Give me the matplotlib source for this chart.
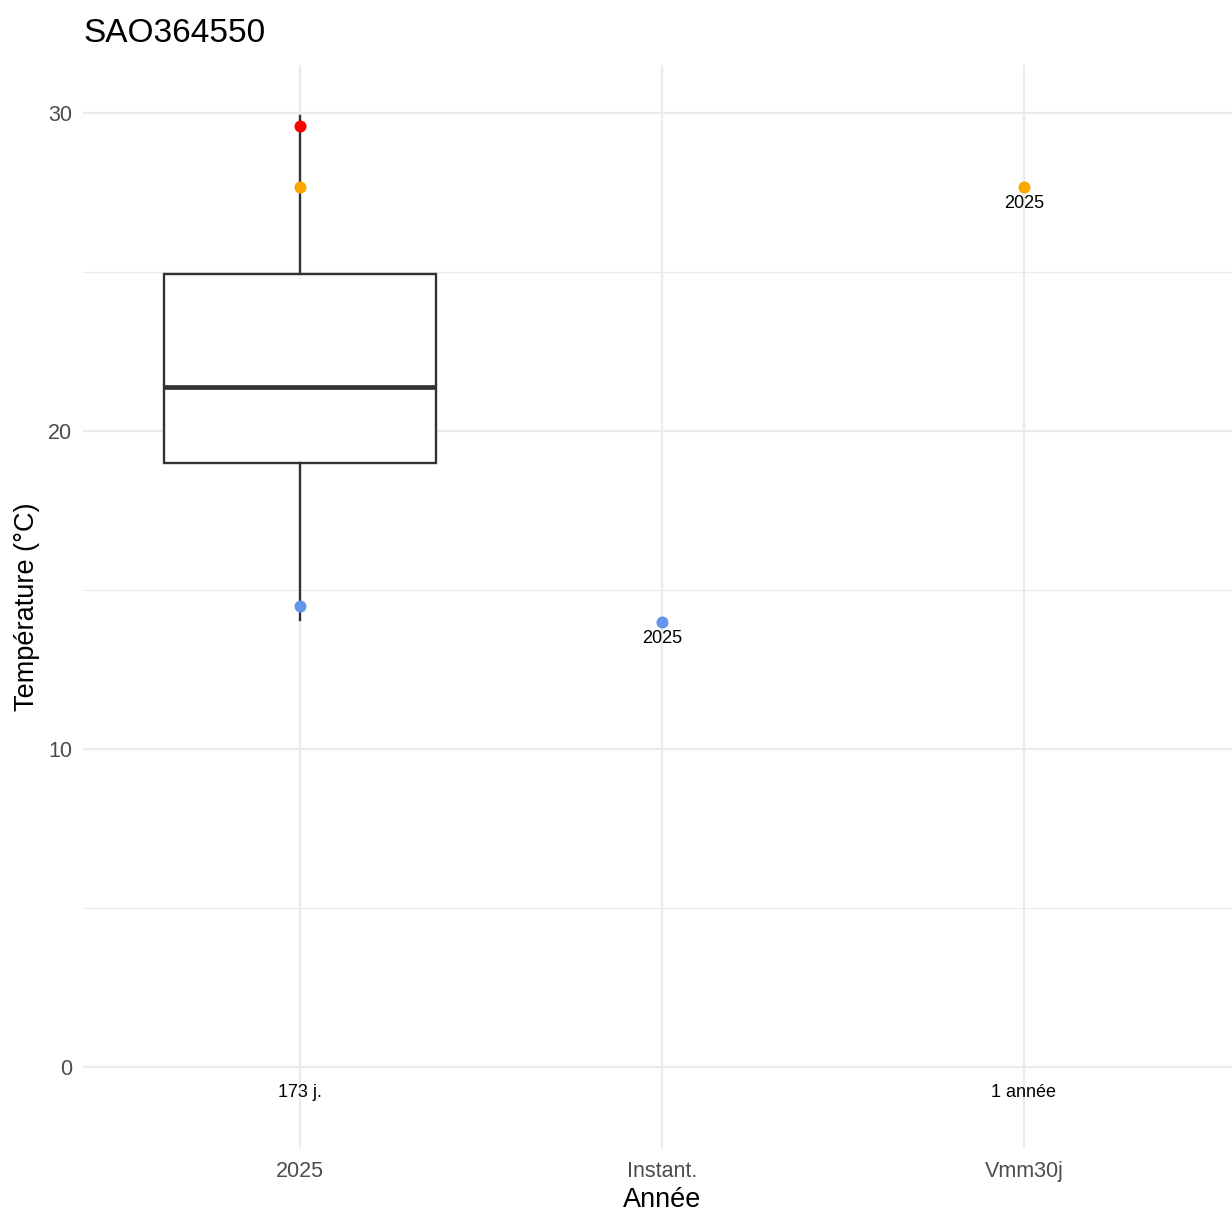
import matplotlib
matplotlib.use("Agg")
import matplotlib.pyplot as plt

plt.rcParams['font.family'] = ['Liberation Sans', 'DejaVu Sans']

title = "SAO364550"
categories = ["2025", "Instant.", "Vmm30j"]
y_ticks = [0, 10, 20, 30]
y_minor = [5, 15, 25]

# box statistics for the 2025 series
box_whislo = 14.06
box_q1 = 18.99
box_med = 21.38
box_q3 = 24.94
box_whishi = 29.9

# highlighted points: (category index, value, colour)
pt_cat = [0, 0, 0, 1, 2]
pt_val = [29.6, 27.67, 14.5, 13.99, 27.67]
pt_col = ["#FF0000", "#FFA500", "#6495ED", "#6495ED", "#FFA500"]

# value labels below points
lab_cat = [1, 2]
lab_val = [13.99, 27.67]
lab_txt = ["2025", "2025"]

# bottom labels
bottom_cat = [0, 2]
bottom_txt = ["173 j.", "1 année"]
bottom_y = -0.8

fig = plt.figure(figsize=(12.32, 12.11), dpi=100)
ax = fig.add_axes([0.0674, 0.052, 0.9326, 0.8943])

xpos = [1, 2, 3]
ax.set_xlim(0.4, 3.575)
ax.set_ylim(-2.547, 31.51)

for s in ax.spines.values():
    s.set_visible(False)

# grid
for y in y_ticks:
    ax.axhline(y, color="#EBEBEB", lw=1.6, zorder=0)
for y in y_minor:
    ax.axhline(y, color="#EBEBEB", lw=0.8, zorder=0)
for x in xpos:
    ax.axvline(x, color="#EBEBEB", lw=1.6, zorder=0)

stats = [dict(whislo=box_whislo, q1=box_q1, med=box_med, q3=box_q3,
              whishi=box_whishi, fliers=[])]
ax.bxp(stats, positions=[xpos[0]], widths=0.75, showcaps=False,
       patch_artist=True,
       boxprops=dict(facecolor="white", edgecolor="#333333", linewidth=1.7),
       whiskerprops=dict(color="#333333", linewidth=1.7),
       medianprops=dict(color="#333333", linewidth=3.4),
       manage_ticks=False, zorder=2)

for c, v, col in zip(pt_cat, pt_val, pt_col):
    ax.scatter(xpos[c], v, s=75, color=col, zorder=4, linewidths=0)

for c, v, t in zip(lab_cat, lab_val, lab_txt):
    ax.annotate(t, (xpos[c], v), xytext=(0, -12), textcoords="offset points",
                ha="center", va="center", fontsize=13, color="black")

for c, t in zip(bottom_cat, bottom_txt):
    ax.text(xpos[c], bottom_y, t, ha="center", va="center", fontsize=13,
            color="black")

ax.set_xticks(xpos)
ax.set_xticklabels(categories)
ax.set_yticks(y_ticks)
ax.set_yticklabels([str(v) for v in y_ticks])
ax.tick_params(axis="both", length=0, labelsize=15.5, colors="#4D4D4D")
ax.tick_params(axis="x", pad=9)
ax.tick_params(axis="y", pad=8)

ax.set_xlabel("Année", fontsize=19.5, labelpad=4, x=0.504)
ax.set_ylabel("Température (°C)", fontsize=19.5, labelpad=5.5)

fig.text(0.0674, 0.9727, title, fontsize=24, ha="left", va="center")

fig.savefig("out.png", dpi=100)
